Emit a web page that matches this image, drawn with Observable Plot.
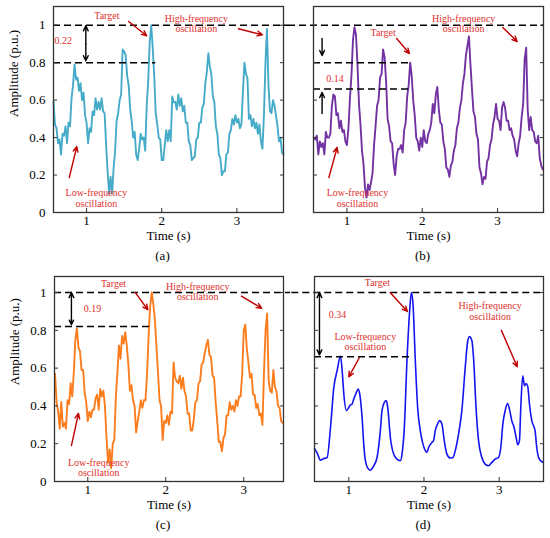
<!DOCTYPE html>
<html>
<head>
<meta charset="utf-8">
<script src="https://cdn.jsdelivr.net/npm/d3@7"></script>
<script src="https://cdn.jsdelivr.net/npm/@observablehq/plot@0.6"></script>
<style>
  body { margin: 0; background: white; }
  #fig { position: relative; width: 550px; height: 538px; background: white; overflow: hidden; }
  #fig > div, #fig > svg { position: absolute; }
  #fig svg, #fig svg text { font-family: "Liberation Serif", "Times New Roman", serif !important; font-weight: normal; }
</style>
</head>
<body>
<div id="fig"></div>
<script>
// ---------------- DATA ----------------
const sampleStep = 0.02;           // s between samples of the noisy signals
const aStart = 0.56;               // (a) first sample time
const aValues = [
  0.59,0.47,0.45,0.37,0.39,0.31,0.42,0.41,0.46,0.37,
  0.48,0.46,0.61,0.68,0.79,0.71,0.72,0.65,0.69,0.60,
  0.64,0.52,0.48,0.37,0.45,0.43,0.54,0.52,0.61,0.55,
  0.59,0.55,0.61,0.54,0.53,0.36,0.22,0.10,0.19,0.10,
  0.24,0.33,0.49,0.53,0.60,0.63,0.87,0.86,0.84,0.73,
  0.68,0.55,0.49,0.40,0.43,0.31,0.28,0.34,0.42,0.39,
  0.40,0.33,0.57,0.70,0.91,1.00,0.88,0.73,0.53,0.47,
  0.40,0.39,0.28,0.28,0.36,0.44,0.38,0.44,0.38,0.62,
  0.59,0.59,0.55,0.63,0.57,0.61,0.54,0.57,0.48,0.48,
  0.38,0.36,0.28,0.29,0.30,0.39,0.40,0.48,0.48,0.56,
  0.58,0.69,0.75,0.85,0.78,0.74,0.62,0.59,0.46,0.42,
  0.31,0.29,0.20,0.22,0.22,0.31,0.32,0.42,0.44,0.50,
  0.47,0.52,0.48,0.50,0.45,0.47,0.64,0.80,0.74,0.72,
  0.50,0.52,0.46,0.50,0.45,0.48,0.42,0.47,0.38,0.34,
  0.52,0.80,0.98,0.68,0.54,0.53,0.60,0.57,0.52,0.46,
  0.38,0.40,0.32,0.31
];
const bStart = 0.56;
const bValues = [
  0.40,0.39,0.41,0.31,0.38,0.35,0.37,0.31,0.43,0.40,
  0.40,0.42,0.57,0.63,0.62,0.52,0.53,0.45,0.49,0.43,
  0.44,0.38,0.36,0.45,0.61,0.73,0.92,0.99,0.95,0.79,
  0.58,0.47,0.33,0.26,0.13,0.08,0.15,0.12,0.16,0.21,
  0.36,0.46,0.57,0.60,0.72,0.74,0.87,0.83,0.70,0.50,
  0.46,0.38,0.37,0.26,0.20,0.30,0.34,0.34,0.36,0.32,
  0.44,0.48,0.62,0.68,0.80,0.73,0.60,0.52,0.40,0.38,
  0.33,0.40,0.35,0.44,0.38,0.37,0.42,0.44,0.48,0.58,
  0.53,0.63,0.67,0.55,0.48,0.47,0.38,0.34,0.24,0.23,
  0.19,0.25,0.27,0.33,0.36,0.45,0.48,0.56,0.60,0.69,
  0.74,0.84,0.89,0.94,0.79,0.66,0.54,0.51,0.42,0.39,
  0.24,0.21,0.15,0.19,0.18,0.27,0.29,0.36,0.39,0.47,
  0.51,0.58,0.50,0.49,0.44,0.56,0.59,0.56,0.49,0.49,
  0.44,0.45,0.41,0.39,0.33,0.30,0.37,0.41,0.51,0.58,
  0.82,0.88,0.55,0.44,0.51,0.44,0.43,0.38,0.37,0.41,
  0.29,0.25,0.23
];
const cStart = 0.58;
const cValues = [
  0.57,0.42,0.37,0.28,0.42,0.29,0.31,0.28,0.43,0.41,
  0.52,0.45,0.57,0.75,0.81,0.71,0.69,0.59,0.59,0.47,
  0.42,0.32,0.37,0.34,0.38,0.38,0.44,0.46,0.38,0.49,
  0.45,0.48,0.40,0.23,0.10,0.17,0.07,0.20,0.22,0.45,
  0.58,0.72,0.65,0.77,0.73,0.79,0.72,0.62,0.48,0.51,
  0.43,0.40,0.26,0.32,0.37,0.43,0.39,0.43,0.43,0.57,
  0.77,0.93,1.00,0.94,0.86,0.72,0.58,0.43,0.40,0.22,
  0.32,0.31,0.35,0.30,0.37,0.36,0.63,0.55,0.53,0.52,
  0.56,0.49,0.55,0.48,0.45,0.36,0.36,0.27,0.27,0.33,
  0.42,0.43,0.52,0.53,0.62,0.63,0.68,0.72,0.75,0.67,
  0.66,0.56,0.55,0.42,0.32,0.21,0.21,0.16,0.23,0.25,
  0.35,0.35,0.42,0.38,0.40,0.37,0.43,0.40,0.45,0.45,
  0.57,0.80,0.83,0.70,0.63,0.55,0.57,0.46,0.46,0.39,
  0.41,0.35,0.36,0.30,0.58,0.80,0.89,0.53,0.48,0.47,
  0.59,0.50,0.48,0.40,0.39,0.32,0.31
];
const dTimes = [0.544,0.58,0.624,0.66,0.712,0.757,0.801,0.845,0.889,0.912,0.934,0.969,1.0,1.022,1.044,1.066,1.102,1.124,1.146,1.177,1.199,1.221,1.252,1.288,1.332,1.376,1.42,1.442,1.473,1.5,1.518,1.553,1.597,1.642,1.686,1.708,1.739,1.774,1.81,1.832,1.854,1.885,1.916,1.951,1.987,2.018,2.04,2.062,2.106,2.128,2.15,2.181,2.208,2.239,2.27,2.305,2.35,2.385,2.416,2.46,2.504,2.549,2.58,2.606,2.637,2.659,2.695,2.726,2.77,2.814,2.858,2.903,2.947,2.991,3.022,3.049,3.08,3.111,3.137,3.168,3.199,3.226,3.248,3.27,3.288,3.314,3.336,3.358,3.381,3.403,3.434,3.478,3.5,3.535,3.588];
const dValues = [0.175,0.15,0.113,0.12,0.127,0.286,0.498,0.587,0.664,0.587,0.463,0.375,0.392,0.406,0.41,0.436,0.472,0.489,0.463,0.339,0.198,0.11,0.071,0.06,0.083,0.127,0.269,0.375,0.419,0.428,0.392,0.233,0.145,0.118,0.11,0.145,0.286,0.64,0.905,1.0,0.94,0.64,0.392,0.269,0.198,0.163,0.154,0.18,0.207,0.216,0.269,0.304,0.322,0.304,0.216,0.145,0.124,0.127,0.163,0.251,0.375,0.604,0.737,0.767,0.746,0.657,0.375,0.216,0.127,0.092,0.083,0.101,0.118,0.127,0.18,0.304,0.375,0.413,0.383,0.322,0.286,0.233,0.194,0.216,0.392,0.56,0.507,0.519,0.502,0.41,0.322,0.269,0.18,0.118,0.101];

const yTicks = [0, 0.2, 0.4, 0.6, 0.8, 1];
const xTicks = [1, 2, 3];
const panelLetters = ["(a)", "(b)", "(c)", "(d)"];
const xLabel = "Time (s)";
const yLabel = "Amplitude (p.u.)";
const txtTarget = "Target";
const txtHigh = "High-frequency\noscillation";
const txtLow = "Low-frequency\noscillation";
// reference levels (target = 1, other peak levels)
const levelA = 0.80, levelB1 = 0.80, levelB2 = 0.66, levelC = 0.82, levelD = 0.66;
const diffLabels = ["0.22", "0.14", "0.19", "0.34"];

// ---------------- helpers ----------------
const mk = (start, vals) => vals.map((v, i) => ({t: +(start + i * sampleStep).toFixed(3), v}));
const seriesA = mk(aStart, aValues);
const seriesB = mk(bStart, bValues);
const seriesC = mk(cStart, cValues);
const seriesD = dTimes.map((t, i) => ({t, v: dValues[i]}));

const RED_TEXT = "#e0302c";
const RED_ARROW = "#c00000";
const FONT = "Liberation Serif";

function panel(cfg) {
  const marks = [
    Plot.lineY(cfg.data, {x: "t", y: "v", stroke: cfg.color, strokeWidth: cfg.sw || 1.9, curve: cfg.curve || "linear", strokeLinejoin: "round"}),
    Plot.ruleY(cfg.dashed, {y: "y", x1: "x1", x2: "x2", stroke: "black", strokeWidth: 1.5, strokeDasharray: "7,4"}),
    Plot.frame({stroke: "#333", strokeWidth: 1.3}),
    // inward ticks
    Plot.axisX({ticks: xTicks, tickSize: -4, text: null, anchor: "bottom", stroke: "#333"}),
    Plot.axisY({ticks: yTicks, tickSize: -4, text: null, anchor: "left", stroke: "#333"}),
    Plot.axisY({ticks: yTicks, tickSize: -4, text: null, anchor: "right", stroke: "#333"}),
    Plot.axisX({ticks: xTicks, tickSize: 0, tickPadding: 3, anchor: "bottom", label: null, fontSize: 13, fontFamily: FONT, tickFormat: d => String(d)}),
    Plot.text([xLabel], {frameAnchor: "bottom", dy: 27, fontSize: 13, fontFamily: FONT}),
    Plot.text([cfg.letter], {frameAnchor: "bottom", dy: 47, dx: -6, fontSize: 13, fontFamily: FONT}),
    Plot.text(cfg.texts, {x: "x", y: "y", text: "text", fill: RED_TEXT, fontSize: 10, lineHeight: 1.05, fontFamily: FONT}),
    Plot.arrow(cfg.arrows, {x1: "x1", y1: "y1", x2: "x2", y2: "y2", stroke: RED_ARROW, strokeWidth: 1.4, headLength: 6, headAngle: 50}),
    Plot.arrow(cfg.blackArrows, {x1: "x1", y1: "y1", x2: "x2", y2: "y2", stroke: "black", strokeWidth: 1.4, headLength: 6, headAngle: 50})
  ];
  if (cfg.showY) {
    marks.push(Plot.axisY({ticks: yTicks, tickSize: 0, tickPadding: 8, anchor: "left", label: null, fontSize: 13, fontFamily: FONT, tickFormat: d => String(d)}));
    marks.push(Plot.text([yLabel], {frameAnchor: "left", y: 0.51, dx: -40, rotate: -90, fontSize: 13, fontFamily: FONT}));
  }
  const p = Plot.plot({
    width: cfg.width, height: cfg.height,
    marginLeft: cfg.ml, marginRight: cfg.mr, marginTop: cfg.mt, marginBottom: cfg.mb,
    x: {domain: cfg.xDomain, axis: null},
    y: {domain: cfg.yDomain, axis: null},
    style: {fontFamily: FONT, fontSize: "13px", background: "transparent", color: "black"},
    marks
  });
  p.style.left = cfg.left + "px";
  p.style.top = cfg.top + "px";
  p.style.overflow = "hidden";
  document.getElementById("fig").appendChild(p);
}

// (a)
panel({
  data: seriesA, color: "#45abc8", letter: panelLetters[0], showY: true,
  left: 0, top: 0, width: 290, height: 262, ml: 53, mr: 7, mt: 6, mb: 50,
  xDomain: [0.56, 3.62], yDomain: [0, 1.1],
  dashed: [{y: 1, x1: 0.56, x2: 10}, {y: levelA, x1: 0.56, x2: 1.92}],
  texts: [
    {x: 1.27, y: 1.05, text: txtTarget},
    {x: 2.46, y: 1.008, text: txtHigh},
    {x: 0.69, y: 0.917, text: diffLabels[0]},
    {x: 1.13, y: 0.077, text: txtLow}
  ],
  arrows: [
    {x1: 1.56, y1: 1.02, x2: 1.80, y2: 0.944},
    {x1: 3.02, y1: 0.981, x2: 3.34, y2: 0.949},
    {x1: 0.77, y1: 0.187, x2: 0.87, y2: 0.352}
  ],
  blackArrows: [
    {x1: 0.99, y1: 0.9, x2: 0.99, y2: 0.997},
    {x1: 0.99, y1: 0.9, x2: 0.99, y2: 0.81}
  ]
});
// (b)
panel({
  data: seriesB, color: "#7232a2", letter: panelLetters[1], showY: false,
  left: 290, top: 0, width: 260, height: 262, ml: 23, mr: 7, mt: 6, mb: 50,
  xDomain: [0.556, 3.61], yDomain: [0, 1.1],
  dashed: [{y: 1, x1: -10, x2: 3.61}, {y: levelB1, x1: 0.556, x2: 1.84}, {y: levelB2, x1: 0.556, x2: 1.85}],
  texts: [
    {x: 1.48, y: 0.961, text: txtTarget},
    {x: 2.55, y: 1.009, text: txtHigh},
    {x: 0.84, y: 0.715, text: diffLabels[1]},
    {x: 1.14, y: 0.077, text: txtLow}
  ],
  arrows: [
    {x1: 1.66, y1: 0.929, x2: 1.83, y2: 0.849},
    {x1: 3.07, y1: 0.988, x2: 3.26, y2: 0.913},
    {x1: 0.76, y1: 0.187, x2: 0.87, y2: 0.347}
  ],
  blackArrows: [
    {x1: 0.67, y1: 0.929, x2: 0.67, y2: 0.838},
    {x1: 0.67, y1: 0.529, x2: 0.67, y2: 0.641}
  ]
});
// (c)
panel({
  data: seriesC, color: "#fb7d1e", letter: panelLetters[2], showY: true,
  left: 0, top: 262, width: 290, height: 276, ml: 54, mr: 7, mt: 14, mb: 57,
  xDomain: [0.573, 3.51], yDomain: [0, 1.085],
  dashed: [{y: 1, x1: 0.573, x2: 10}, {y: levelC, x1: 0.573, x2: 1.82}],
  texts: [
    {x: 1.33, y: 1.045, text: txtTarget},
    {x: 2.41, y: 1.004, text: txtHigh},
    {x: 1.06, y: 0.917, text: diffLabels[2]},
    {x: 1.14, y: 0.073, text: txtLow}
  ],
  arrows: [
    {x1: 1.61, y1: 1.0, x2: 1.77, y2: 0.909},
    {x1: 2.97, y1: 0.981, x2: 3.23, y2: 0.917},
    {x1: 0.79, y1: 0.19, x2: 0.88, y2: 0.36}
  ],
  blackArrows: [
    {x1: 0.79, y1: 0.91, x2: 0.79, y2: 1.0},
    {x1: 0.79, y1: 0.91, x2: 0.79, y2: 0.83}
  ]
});
// (d)
panel({
  data: seriesD, color: "#1414f0", letter: panelLetters[3], showY: false, sw: 1.6, curve: "monotone-x",
  left: 290, top: 262, width: 260, height: 276, ml: 24, mr: 7, mt: 14, mb: 57,
  xDomain: [0.544, 3.59], yDomain: [0, 1.085],
  dashed: [{y: 1, x1: -10, x2: 3.59}, {y: levelD, x1: 0.544, x2: 1.82}],
  texts: [
    {x: 1.38, y: 1.05, text: txtTarget},
    {x: 0.85, y: 0.885, text: diffLabels[3]},
    {x: 1.22, y: 0.740, text: txtLow},
    {x: 2.88, y: 0.903, text: txtHigh}
  ],
  arrows: [
    {x1: 1.55, y1: 1.0, x2: 1.78, y2: 0.90},
    {x1: 1.14, y1: 0.655, x2: 1.0, y2: 0.554},
    {x1: 3.03, y1: 0.80, x2: 3.24, y2: 0.607}
  ],
  blackArrows: [
    {x1: 0.61, y1: 0.84, x2: 0.61, y2: 1.0},
    {x1: 0.61, y1: 0.84, x2: 0.61, y2: 0.67}
  ]
});
</script>
</body>
</html>
